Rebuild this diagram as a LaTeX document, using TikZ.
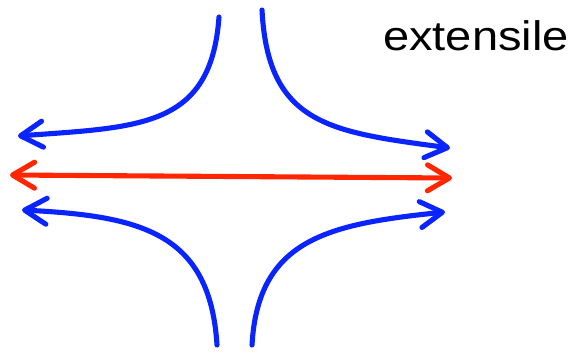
\documentclass[tikz,border=0pt]{standalone}
\usepackage{fontspec}
\setmainfont{Liberation Sans}
\usetikzlibrary{arrows.meta}

\definecolor{flowblue}{RGB}{10,36,255}
\definecolor{flowred}{RGB}{255,38,0}

\begin{document}
\begin{tikzpicture}[x=0.02cm,y=-0.02cm,line width=2.9pt,line cap=round,
  barb/.style={-{Straight Barb[length=0.44cm,width=0.52cm,round]}},
  twobarb/.style={{Straight Barb[length=0.44cm,width=0.52cm,round]}-{Straight Barb[length=0.44cm,width=0.52cm,round]}}]
\useasboundingbox (0,0) rectangle (578,352);
% streamlines coming in from top and bottom
\draw[flowblue,barb] (219,17) .. controls (211,128) and (140,127) .. (18,136);
\draw[flowblue,barb] (262,10) .. controls (268,125) and (330,132) .. (450,148);
\draw[flowblue,barb] (217,345) .. controls (210,232) and (140,216) .. (22,210);
\draw[flowblue,barb] (252,345) .. controls (258,238) and (330,224) .. (445,212);
% stretching axis
\draw[flowred,twobarb] (10,175) -- (452,178);
\node[font=\fontsize{23.5}{28}\selectfont,anchor=base,xscale=1.14,transform shape] (label) at (476,50) {extensile};
\end{tikzpicture}
\end{document}
